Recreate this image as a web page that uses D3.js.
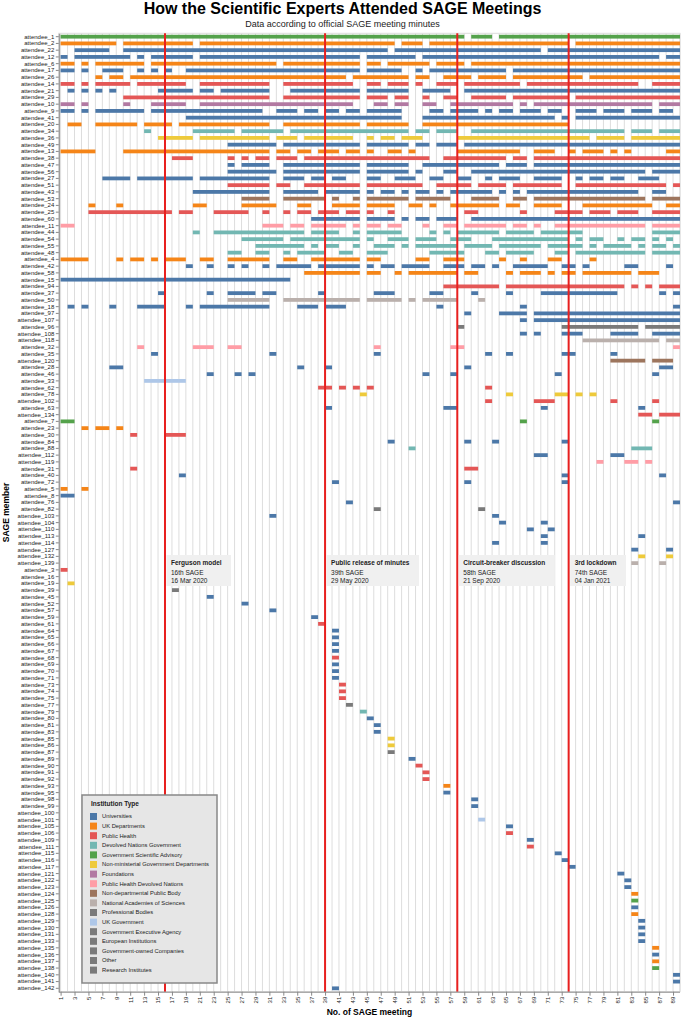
<!DOCTYPE html>
<html>
<head>
<meta charset="utf-8">
<script src="https://cdn.jsdelivr.net/npm/d3@7"></script>
<style>
  body { margin: 0; background: #fff; }
  svg { font-family: "Liberation Sans", Arial, Helvetica, sans-serif; }
</style>
</head>
<body>
<script>
// rows of the chart, top to bottom
var attendeeIds = [1,2,22,12,6,17,26,14,21,29, 10,9,41,20,34,36,49,13,38,47,
  56,27,51,43,53,24,25,60,11,44, 54,55,48,4,42,58,15,94,37,50,
  18,97,107,96,108,118,32,35,120,28, 46,33,62,78,102,63,134,7,23,30,
  84,88,112,119,31,40,72,5,8,76, 82,103,104,110,113,114,127,132,139,3,
  16,19,39,45,52,57,59,61,64,65, 66,67,68,69,70,71,73,74,75,77,
  79,80,81,83,85,86,87,89,90,91, 92,93,95,98,99,100,101,105,106,109,
  111,115,116,117,121,122,123,124,125,126, 128,129,130,131,133,135,136,137,138,140,
  141,142]

// institution type of each row
var attendeeTypes = ["GSA","UKD","U","U","UKD","U","UKD","PH","U","PH",
  "F","U","U","UKD","DNG","NMGD","U","UKD","PH","U",
  "U","U","PH","U","NDPB","UKD","PH","U","PHDN","DNG",
  "DNG","DNG","DNG","UKD","U","UKD","U","PH","U","NAS",
  "U","U","U","PB","U","NAS","PHDN","U","NDPB","U",
  "U","UKG","PH","NMGD","PH","U","PH","GSA","UKD","PH",
  "U","DNG","U","PHDN","PH","U","U","UKD","U","U",
  "GEA","U","U","U","U","U","U","NMGD","NAS","PH",
  "O","NMGD","RI","U","U","U","U","PH","U","U",
  "U","U","PH","U","U","U","PH","PH","PH","EI",
  "DNG","U","U","U","NMGD","NMGD","GOC","U","PH","PH",
  "PH","UKD","U","U","U","O","UKG","U","PH","U",
  "PH","U","U","U","U","U","U","UKD","GSA","U",
  "UKD","U","U","U","U","UKD","U","UKD","GSA","U",
  "U","U"]

// meetings attended by each row (runs of consecutive meetings)
var attendance = [
  "1-58,60-62,64-89",
  "1-8,10-19,21-48,50-52,54-73,75-89",
  "3-7,10-47,49-69,71-89",
  "1,3-10,12,14-19,21-43,45-51,53-86,88-89",
  "1-2,4,6-12,14-31,33-43,45-46,48-53,55-58,60-89",
  "1-2,4,7-9,12,14,16,19-43,45-49,52,54-64,66-89",
  "6,8-9,11-41,43-50,52-53,56-59,61-64,66-75,77-89",
  "1-2,4,6-10,12-18,21-30,33-42,45-46,48-50,52,55-57,59-66,68-83,86-89",
  "2,4,6,8,15-19,21-22,24-30,34-43,45-50,53-56,59-89",
  "10-30,33-43,45-47,49-50,53,56-57,60-64,66-73,75-89",
  "1-2,4,10,14-18,21-42,46-47,49-50,53-54,57-65,67,69-85,87-89",
  "1-2,4,6-12,14-29,32-34,36-37,39-40,42-43,45-49,54-55,57-60,62,64-65,67-69,71-72,75-77,79-81,83-85,87-88",
  "19-49,53-71,73,75-89",
  "2-3,6-11,13-16,18-30,33-43,45-50,53-73",
  "13,20-25,27-32,34-50,52-53,55-57,60-81,83-85,87-89",
  "15-19,21-30,32-34,36-42,45,47-48,50-52,58-76,78-81,83-89",
  "25-31,33-43,45-50,52-53,55-57,59-89",
  "1-5,10-30,32-33,35-36,38-40,42-43,45,48-49,51,58-66,69-71,74,76-78,80,82,88-89",
  "17-19,25,27,29-30,32-34,36-53,56-64,66-67,69-89",
  "25,27-30,33-43,45-50,53-63,65-67,69-89",
  "25-31,33-43,45-50,52,56-57,60-84,86-89",
  "7-10,12-19,21-30,33-35,37-38,40-41,45-46,49-51,54-55,58-59,62,64-66,69-72,75,77-78,80-81,84-86",
  "25-30,32-33,36-43,45-52,55-59,61-64,66-72,75-87,89",
  "20-30,33-37,39-43,45,47-48,50,52-53,55,57-62,64,66,68-83,86-87",
  "27-30,33-38,40,43,45-50,52-56,60-63,66-67,69-84,86-89",
  "5,9,20-21,27-31,35-36,40-43,45-48,51-52,54,57-63,65-66,69-72,76-85,88-89",
  "5-16,18-19,23-27,30,33,35-36,38-40,42-43,45,48,59-60,67,72-75,77-79,81-83,86-89",
  "37-43,45-48,50,52-53,55-57,60-89",
  "1-2,30-32,34-35,37-41,43,45-46,48-49,53,56-57,59-64,66-67,69,72-84,86-89",
  "20,23-35,37-40,43,45-49,54,56,58-63,65-68,70-75,86-89",
  "27-32,34-43,45,48-50,52-54,57-59,63-73,75,77-78,81,83-84,86,88",
  "29-35,37,39-40,43,46-48,50,52-57,59-62,64-69,71-75,77,79-82,84,86-87,89",
  "25-26,29-30,33,35-38,41-42,45-47,54-58,62-63,65-68,72-73,75-84,86-89",
  "1-4,9,11-12,14,16-18,21-22,25-30,33-34,37-43,45-46,52-53,56-58,64,67,71-72,77",
  "19,22,25,27,30,32-36,38-43,45,47-48,50-53,56-58,60-61,63,66-70,73-74,76,82-83,88",
  "36-43,45-46,49,51-57,59-60,65,67-69,71,73-74,76-82,84-86",
  "1-33",
  "56-63,65-81,83,85,87-89",
  "15,22,25-28,30-31,38,46-48,54-55,60,65,70-80,87,89",
  "25-30,33-43,45-49,51,53-57,61",
  "2,4,8,12-15,19,21-30,35-37,39-41,55,67,89",
  "59,64-67,69-89",
  "67,69-89",
  "58,73-83,85-89",
  "67,69,73-75,80-83,86-89",
  "76-86,88-89",
  "12,20-22,25-26,46,57-58,89",
  "14,31,46,62,65,73-74,80",
  "80-84,86-88",
  "8-9,35,39,59,87-88",
  "22,26,28,53,57,72,86",
  "13-18",
  "38-39,41,43,45,62",
  "44,65,72-73,75,77",
  "62,69-71,80,86",
  "39,56-57,70,84",
  "84-85,87-89",
  "1-2,67,86",
  "4,6-7,9",
  "11,16-18",
  "48,59,63,73",
  "51,83-85",
  "69-70,80-81",
  "78,82-83,85",
  "11,59-60",
  "18,73,87",
  "40,59,73",
  "1,4",
  "1-2",
  "42,89",
  "46,61",
  "31,63",
  "64,70",
  "68,71",
  "70,84",
  "63,70",
  "83,88",
  "84,88",
  "83,87",
  "1", "", "2", "17", "22", "27", "31", "37", "38",
  "40", "40", "40", "40", "40", "40", "40", "40",
  "41", "41", "41", "42", "44", "45", "46", "46", "48", "48", "48",
  "51", "52", "53", "53", "56", "56", "60", "60", "", "61",
  "65", "65", "68", "68", "72", "73", "74",
  "81", "82", "82", "83", "83", "83", "83", "84", "84", "84", "84",
  "86", "86", "86", "86", "89", "89", "40"
]

var typeCodes = ["U","UKD","PH","DNG","GSA","NMGD","F","PHDN","NDPB","NAS","PB","UKG","GEA","EI","GOC","O","RI"]
var typeNames = ["Universities","UK Departments","Public Health","Devolved Nations Government",
  "Government Scientific Advisory","Non-ministerial Government Departments","Foundations",
  "Public Health Devolved Nations","Non-departmental Public Body","National Academies of Sciences",
  "Professional Bodies","UK Government","Government Executive Agency","European Institutions",
  "Government-owned Companies","Other","Research Institutes"]
var typeColors = ["#4c78a8","#f58518","#e45756","#72b7b2","#54a24b","#eeca3b","#b279a2",
  "#ff9da6","#9d755d","#bab0ac","#7a7a7a","#aec7e8","#7a7a7a","#7a7a7a","#7a7a7a","#7a7a7a","#7a7a7a"]

var meetingTicks = [1,3,5,7,9,11,13,15,17,19,21,23,25,27,29,31,33,35,37,39,41,43,45,
  47,49,51,53,55,57,59,61,63,65,67,69,71,73,75,77,79,81,83,85,87,89]

var eventMeetings = [16, 39, 58, 74]
var eventNames = ["Ferguson model", "Public release of minutes", "Circuit-breaker discussion", "3rd lockdown"]
var eventSage = ["16th SAGE", "39th SAGE", "58th SAGE", "74th SAGE"]
var eventDates = ["16 Mar 2020", "29 May 2020", "21 Sep 2020", "04 Jan 2021"]

var W = 685, H = 1018
var plotTop = 33.3, plotBottom = 991.7, plotLeft = 58.8, plotRight = 680

var svg = d3.select("body").append("svg")
  .attr("width", W)
  .attr("height", H)

var x = d3.scaleLinear().domain([1, 90]).range([60.6, plotRight])
var y = d3.scaleBand()
  .domain(attendeeIds.map(function(d) { return "attendee_" + d }))
  .range([plotTop, plotBottom])
var color = d3.scaleOrdinal().domain(typeCodes).range(typeColors)

// title
svg.append("text")
  .attr("x", W / 2).attr("y", 14)
  .attr("text-anchor", "middle")
  .attr("font-size", 16).attr("font-weight", "bold")
  .text("How the Scientific Experts Attended SAGE Meetings")
svg.append("text")
  .attr("x", W / 2).attr("y", 26.5)
  .attr("text-anchor", "middle")
  .attr("font-size", 9).attr("fill", "#222")
  .text("Data according to official SAGE meeting minutes")

// frame + vertical grid
svg.append("rect")
  .attr("x", plotLeft).attr("y", plotTop)
  .attr("width", plotRight - plotLeft).attr("height", plotBottom - plotTop)
  .attr("fill", "none").attr("stroke", "#ddd")

svg.append("g").selectAll("line")
  .data(d3.range(1, 91))
  .enter().append("line")
    .attr("x1", function(d) { return x(d) })
    .attr("x2", function(d) { return x(d) })
    .attr("y1", plotTop).attr("y2", plotBottom)
    .attr("stroke", "#ddd").attr("stroke-width", 1)

// attendance bars
var runs = []
attendeeIds.forEach(function(id, i) {
  if (!attendance[i]) return
  attendance[i].split(",").forEach(function(s) {
    var p = s.split("-").map(Number)
    runs.push({ name: "attendee_" + id, type: attendeeTypes[i], from: p[0], to: p.length > 1 ? p[1] : p[0] })
  })
})

var barH = 3.8
svg.append("g").selectAll("rect")
  .data(runs)
  .enter().append("rect")
    .attr("x", function(d) { return x(d.from) })
    .attr("width", function(d) { return x(d.to + 1) - x(d.from) })
    .attr("y", function(d) { return y(d.name) + (y.bandwidth() - barH) / 2 })
    .attr("height", barH)
    .attr("fill", function(d) { return color(d.type) })

// event lines
svg.append("g").selectAll("line")
  .data(eventMeetings)
  .enter().append("line")
    .attr("x1", function(d) { return x(d) })
    .attr("x2", function(d) { return x(d) })
    .attr("y1", plotTop).attr("y2", plotBottom)
    .attr("stroke", "#e8201f").attr("stroke-width", 2)

// axes
var yAxis = svg.append("g")
  .attr("transform", "translate(" + plotLeft + ",0)")
  .call(d3.axisLeft(y).tickSize(3).tickSizeOuter(0).tickPadding(1.5))
yAxis.selectAll("text").attr("font-size", 6).attr("fill", "#222")
  .attr("font-family", "Liberation Sans, Arial, sans-serif")
yAxis.selectAll("line").attr("stroke", "#888")
yAxis.select(".domain").attr("stroke", "#888")

var xAxis = svg.append("g")
  .attr("transform", "translate(0," + plotBottom + ")")
  .call(d3.axisBottom(x).tickValues(meetingTicks).tickSize(4).tickSizeOuter(0).tickFormat(d3.format("d")))
xAxis.select(".domain").attr("d", "M" + plotLeft + ",0.5H" + plotRight).attr("stroke", "#888")
xAxis.selectAll("line").attr("stroke", "#888")
xAxis.selectAll("text")
  .attr("font-size", 6).attr("fill", "#222")
  .attr("font-family", "Liberation Sans, Arial, sans-serif")
  .attr("text-anchor", "end")
  .attr("transform", "rotate(-90)")
  .attr("x", -5).attr("y", 0).attr("dy", "0.32em")

svg.append("text")
  .attr("x", (plotLeft + plotRight) / 2).attr("y", 1015)
  .attr("text-anchor", "middle")
  .attr("font-size", 8.5).attr("font-weight", "bold")
  .text("No. of SAGE meeting")
svg.append("text")
  .attr("transform", "translate(9," + ((plotTop + plotBottom) / 2) + ") rotate(-90)")
  .attr("text-anchor", "middle")
  .attr("font-size", 8.5).attr("font-weight", "bold")
  .text("SAGE member")

// event annotation boxes
eventMeetings.forEach(function(m, i) {
  var g = svg.append("g").attr("transform", "translate(" + (x(m) + 1.5) + ",555)")
  var box = g.append("rect").attr("fill", "#f0f0f0").attr("height", 31)
  var t1 = g.append("text").attr("x", 4.5).attr("y", 10)
    .attr("font-size", 6.5).attr("font-weight", "bold").attr("fill", "#222").text(eventNames[i])
  g.append("text").attr("x", 4.5).attr("y", 19.5)
    .attr("font-size", 6.5).attr("fill", "#222").text(eventSage[i])
  g.append("text").attr("x", 4.5).attr("y", 28)
    .attr("font-size", 6.5).attr("fill", "#222").text(eventDates[i])
  box.attr("width", t1.node().getComputedTextLength() + 14)
})

// legend
var legend = svg.append("g").attr("transform", "translate(82,795)")
legend.append("rect")
  .attr("width", 135).attr("height", 188)
  .attr("fill", "#e6e6e6").attr("stroke", "#888").attr("stroke-width", 1.5)
legend.append("text")
  .attr("x", 9).attr("y", 11)
  .attr("font-size", 6.5).attr("font-weight", "bold").attr("fill", "#222")
  .text("Institution Type")

var item = legend.selectAll("g.item")
  .data(typeNames)
  .enter().append("g")
    .attr("class", "item")
    .attr("transform", function(d, i) { return "translate(8," + (21.5 + i * 9.6) + ")" })
item.append("rect")
  .attr("x", 0).attr("y", -3.5)
  .attr("width", 7).attr("height", 7)
  .attr("fill", function(d, i) { return typeColors[i] })
item.append("text")
  .attr("x", 12).attr("dy", "0.33em")
  .attr("font-size", 5.8).attr("fill", "#222")
  .text(function(d) { return d })
</script>
</body>
</html>
